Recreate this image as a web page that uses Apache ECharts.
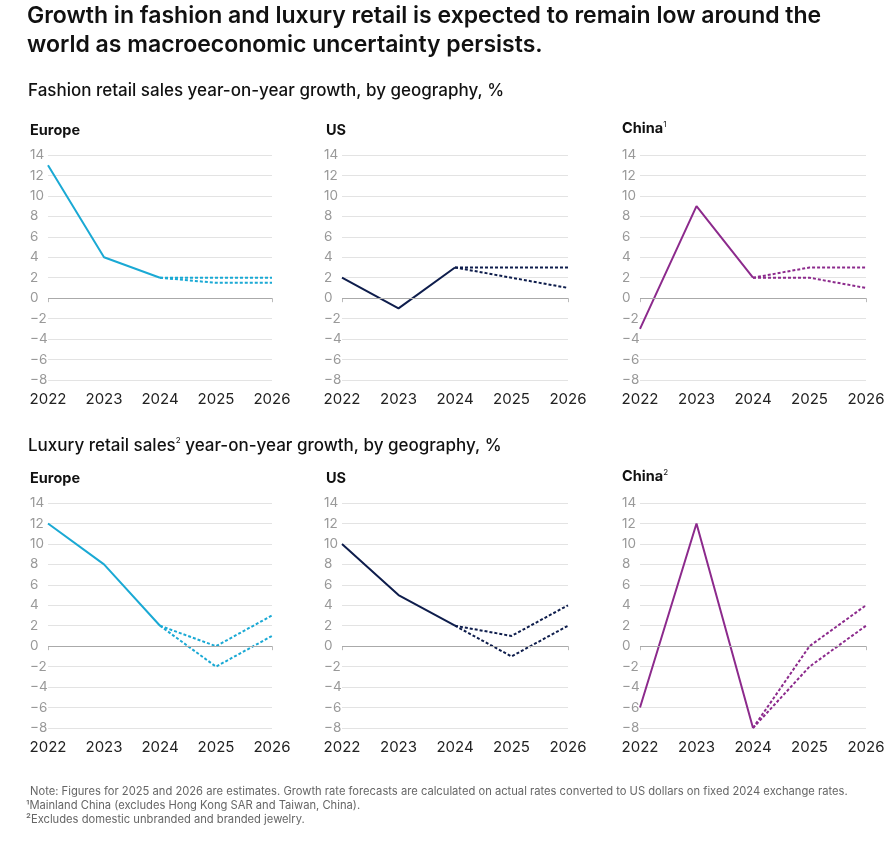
<!DOCTYPE html>
<html><head><meta charset="utf-8">
<script src="https://cdn.jsdelivr.net/npm/echarts@6/dist/echarts.min.js"></script>
<style>html,body{margin:0;padding:0;background:#fff}#c{width:896px;height:843px}</style>
</head><body><div id="c"></div>
<script>
const years = ['2022','2023','2024','2025','2026'];
const yTicks = [14,12,10,8,6,4,2,0,-2,-4,-6,-8];
// Fashion
const fashionEuropeActual = [13,4,2,null,null];
const fashionEuropeHigh = [null,null,2,2,2];
const fashionEuropeLow = [null,null,2,1.5,1.5];
const fashionUSActual = [2,-1,3,null,null];
const fashionUSHigh = [null,null,3,3,3];
const fashionUSLow = [null,null,3,2,1];
const fashionChinaActual = [-3,9,2,null,null];
const fashionChinaHigh = [null,null,2,3,3];
const fashionChinaLow = [null,null,2,2,1];
// Luxury
const luxuryEuropeActual = [12,8,2,null,null];
const luxuryEuropeHigh = [null,null,2,0,3];
const luxuryEuropeLow = [null,null,2,-2,1];
const luxuryUSActual = [10,5,2,null,null];
const luxuryUSHigh = [null,null,2,1,4];
const luxuryUSLow = [null,null,2,-1,2];
const luxuryChinaActual = [-6,12,-8,null,null];
const luxuryChinaHigh = [null,null,-8,0,4];
const luxuryChinaLow = [null,null,-8,-2,2];

const colors = {eu:'#1aa9d4', us:'#0e1d4c', cn:'#8c2a8c'};
const panels = [
  {left:48,w:224,top:155,c:colors.eu,d:[fashionEuropeActual,fashionEuropeHigh,fashionEuropeLow]},
  {left:342,w:226,top:155,c:colors.us,d:[fashionUSActual,fashionUSHigh,fashionUSLow]},
  {left:640,w:226,top:155,c:colors.cn,d:[fashionChinaActual,fashionChinaHigh,fashionChinaLow]},
  {left:48,w:224,top:503,c:colors.eu,d:[luxuryEuropeActual,luxuryEuropeHigh,luxuryEuropeLow]},
  {left:342,w:226,top:503,c:colors.us,d:[luxuryUSActual,luxuryUSHigh,luxuryUSLow]},
  {left:640,w:226,top:503,c:colors.cn,d:[luxuryChinaActual,luxuryChinaHigh,luxuryChinaLow]},
];
const F = 'Inter, "Noto Sans", sans-serif';
const grid=[],xAxis=[],yAxis=[],series=[];
panels.forEach((p,i)=>{
  grid.push({left:p.left,top:p.top,width:p.w,height:225});
  xAxis.push({type:'category',data:years,boundaryGap:false,gridIndex:i,
    axisLine:{show:false},axisTick:{show:true,alignWithLabel:true,length:4,lineStyle:{color:'#bbb'},interval:(idx)=>idx===0||idx===4},
    axisLabel:{color:'#222',fontSize:15,fontFamily:F,margin:12}});
  yAxis.push({type:'value',min:-8,max:14,interval:2,gridIndex:i,
    axisLine:{show:false},axisTick:{show:false},
    axisLabel:{color:'#999',fontSize:13.5,fontFamily:F,align:'left',margin:18,
      formatter:v=>v<0?'\u2212'+Math.abs(v):String(v)},
    splitLine:{lineStyle:{color:'#e3e3e3',width:1}}});
  series.push({type:'line',xAxisIndex:i,yAxisIndex:i,data:p.d[0],symbol:'none',lineStyle:{color:p.c,width:2},
    markLine:{silent:true,symbol:'none',label:{show:false},lineStyle:{color:'#aaa',type:'solid',width:1},data:[{yAxis:0}]}});
  series.push({type:'line',xAxisIndex:i,yAxisIndex:i,data:p.d[1],symbol:'none',lineStyle:{color:p.c,width:2,type:[3,2]}});
  series.push({type:'line',xAxisIndex:i,yAxisIndex:i,data:p.d[2],symbol:'none',lineStyle:{color:p.c,width:2,type:[3,2]}});
});
const txt=(x,y,t,s,w,c,rich)=>({type:'text',left:x,top:y,style:{text:t,font:`${w} ${s}px ${F}`,fill:c||'#111',rich:rich}});
const supRich={b:{fontSize:14.5,fontWeight:'bold',fontFamily:F,fill:'#111'},s:{fontSize:8,fontFamily:F,verticalAlign:'top',padding:[0,0,8,0],fill:'#111'},
  m:{fontSize:17,fontFamily:F,fill:'#111',fontWeight:500}};
const graphic=[
  txt(27,5,'Growth in fashion and luxury retail is expected to remain low around the',23,'600','#111'),
  txt(27,34,'world as macroeconomic uncertainty persists.',23,'600','#111'),
  txt(28,82,'Fashion retail sales year-on-year growth, by geography, %',17,'500','#111'),
  {type:'text',left:28,top:437,style:{rich:supRich,text:'{m|Luxury retail sales}{s|2}{m| year-on-year growth, by geography, %}'}},
  txt(30,123,'Europe',14.5,'bold'),
  txt(326,123,'US',14.5,'bold'),
  {type:'text',left:622,top:121,style:{rich:supRich,text:'{b|China}{s|1}'}},
  txt(30,471,'Europe',14.5,'bold'),
  txt(326,471,'US',14.5,'bold'),
  {type:'text',left:622,top:469,style:{rich:supRich,text:'{b|China}{s|2}'}},
  txt(30,786,'Note: Figures for 2025 and 2026 are estimates. Growth rate forecasts are calculated on actual rates converted to US dollars on fixed 2024 exchange rates.',11.2,'normal','#666'),
  txt(26,800,'\u00b9Mainland China (excludes Hong Kong SAR and Taiwan, China).',11.2,'normal','#666'),
  txt(26,814,'\u00b2Excludes domestic unbranded and branded jewelry.',11.2,'normal','#666'),
];
const chart=echarts.init(document.getElementById('c'));
chart.setOption({animation:false,backgroundColor:'#fff',grid,xAxis,yAxis,series,graphic});
</script></body></html>
